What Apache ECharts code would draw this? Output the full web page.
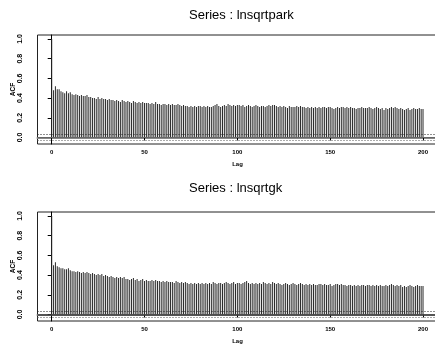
<!DOCTYPE html>
<html>
<head>
<meta charset="utf-8">
<script src="https://cdn.jsdelivr.net/npm/echarts@6/dist/echarts.min.js"></script>
<style>html,body{margin:0;padding:0;background:#fff}#c{width:435px;height:355px}</style>
</head>
<body>
<div id="c"></div>
<script>
const titles = ["Series : lnsqrtpark", "Series : lnsqrtgk"];
const xTicks = [0, 50, 100, 150, 200];
const yTicks = [0, 0.2, 0.4, 0.6, 0.8, 1.0];
const confBand = 0.028;

const acfPark = [1.0,
0.48,0.52,0.49,0.49,0.47,0.46,0.45,0.47,0.45,0.46,
0.44,0.43,0.44,0.43,0.42,0.43,0.42,0.42,0.43,0.41,
0.41,0.40,0.40,0.39,0.41,0.39,0.40,0.39,0.39,0.38,
0.39,0.38,0.38,0.37,0.38,0.37,0.36,0.38,0.37,0.36,
0.37,0.36,0.35,0.37,0.36,0.35,0.36,0.35,0.36,0.35,
0.35,0.35,0.34,0.35,0.34,0.36,0.34,0.34,0.33,0.34,
0.34,0.33,0.34,0.33,0.34,0.33,0.33,0.34,0.33,0.32,
0.33,0.32,0.32,0.31,0.32,0.31,0.32,0.31,0.32,0.32,
0.31,0.32,0.31,0.32,0.31,0.31,0.32,0.33,0.34,0.32,
0.31,0.32,0.33,0.32,0.34,0.33,0.32,0.33,0.32,0.33,
0.33,0.32,0.33,0.31,0.32,0.33,0.32,0.31,0.32,0.33,
0.32,0.31,0.32,0.32,0.31,0.32,0.33,0.32,0.33,0.33,
0.32,0.31,0.32,0.31,0.32,0.31,0.30,0.32,0.31,0.31,
0.31,0.32,0.31,0.32,0.31,0.31,0.30,0.31,0.30,0.31,
0.30,0.31,0.30,0.31,0.30,0.31,0.31,0.30,0.31,0.31,
0.30,0.29,0.30,0.31,0.30,0.31,0.31,0.30,0.31,0.30,
0.31,0.30,0.30,0.29,0.30,0.30,0.31,0.30,0.30,0.30,
0.31,0.30,0.29,0.30,0.31,0.30,0.29,0.30,0.28,0.30,
0.29,0.30,0.31,0.30,0.31,0.30,0.29,0.30,0.29,0.28,
0.29,0.30,0.28,0.29,0.30,0.29,0.29,0.30,0.29,0.29];

const acfGk = [1.0,
0.50,0.53,0.49,0.48,0.47,0.47,0.46,0.46,0.47,0.45,
0.44,0.44,0.43,0.44,0.43,0.42,0.43,0.42,0.43,0.42,
0.41,0.42,0.41,0.40,0.41,0.40,0.41,0.39,0.40,0.39,
0.38,0.39,0.38,0.37,0.38,0.37,0.38,0.37,0.38,0.36,
0.36,0.35,0.36,0.37,0.35,0.36,0.34,0.35,0.36,0.34,
0.35,0.34,0.34,0.35,0.34,0.35,0.34,0.34,0.33,0.34,
0.33,0.34,0.33,0.33,0.33,0.32,0.34,0.33,0.32,0.33,
0.32,0.33,0.32,0.31,0.32,0.31,0.32,0.31,0.32,0.31,
0.32,0.31,0.32,0.31,0.32,0.31,0.33,0.32,0.31,0.32,
0.32,0.31,0.32,0.33,0.32,0.31,0.32,0.33,0.31,0.32,
0.32,0.31,0.32,0.33,0.34,0.32,0.31,0.32,0.31,0.32,
0.31,0.32,0.31,0.33,0.32,0.31,0.32,0.31,0.33,0.32,
0.31,0.32,0.31,0.30,0.31,0.32,0.31,0.30,0.31,0.32,
0.31,0.30,0.31,0.32,0.31,0.30,0.31,0.30,0.31,0.30,
0.31,0.30,0.30,0.31,0.31,0.30,0.31,0.30,0.30,0.31,
0.29,0.30,0.31,0.31,0.30,0.31,0.30,0.30,0.29,0.30,
0.30,0.29,0.30,0.29,0.30,0.29,0.30,0.30,0.29,0.30,
0.30,0.29,0.30,0.29,0.30,0.29,0.30,0.29,0.29,0.30,
0.29,0.30,0.31,0.30,0.29,0.30,0.29,0.30,0.28,0.29,
0.28,0.29,0.30,0.29,0.28,0.29,0.30,0.29,0.29,0.29];

const FONT = 'Liberation Sans';
const chart = echarts.init(document.getElementById('c'), null, {renderer: 'canvas'});

function toPairs(arr) { return arr.map((v, lag) => [lag, v]); }

const gridTops = [35, 212];
const grids = gridTops.map(t => ({
  left: 37.5, top: t, width: 400, height: 109,
  outerBoundsMode: 'none', containLabel: false,
  show: true, borderColor: '#222', borderWidth: 1, backgroundColor: 'transparent'
}));

const xAxes = [0, 1].map(i => ({
  type: 'value', gridIndex: i, min: -7.65, max: 207.8,
  name: 'Lag', nameLocation: 'middle', nameGap: 17, nameMoveOverlap: false,
  nameTextStyle: {fontFamily: FONT, fontSize: 6, fontWeight: 'bold', color: '#000'},
  axisLine: {show: true, lineStyle: {color: '#888', width: 2}},
  axisTick: {show: true, length: 3, customValues: xTicks, lineStyle: {color: '#000'}},
  axisLabel: {customValues: xTicks, margin: 5, fontFamily: FONT, fontSize: 6, fontWeight: 'bold', color: '#000'},
  splitLine: {show: false}
}));

const yAxes = [0, 1].map(i => ({
  type: 'value', gridIndex: i, min: -0.066, max: 1.04,
  name: 'ACF', nameLocation: 'middle', nameGap: 21, nameRotate: 90, nameMoveOverlap: false,
  nameTextStyle: {fontFamily: FONT, fontSize: 6.5, fontWeight: 'bold', color: '#000'},
  axisLine: {show: true, lineStyle: {color: '#000', width: 1}},
  axisTick: {show: true, length: 4, customValues: yTicks, lineStyle: {color: '#000'}},
  axisLabel: {customValues: yTicks, rotate: 90, margin: 14, fontFamily: FONT, fontSize: 7, fontWeight: 'bold', color: '#000',
    formatter: v => v.toFixed(1)},
  splitLine: {show: false}
}));

const seriesData = [acfPark, acfGk];
const series = seriesData.map((arr, i) => ({
  type: 'bar', xAxisIndex: i, yAxisIndex: i,
  data: toPairs(arr), barWidth: 1,
  itemStyle: {color: '#2a2a2a'},
  silent: true, animation: false,
  markLine: {
    silent: true, symbol: 'none', label: {show: false}, animation: false,
    data: [
      {yAxis: 0, lineStyle: {type: 'solid', color: i === 0 ? '#666' : '#444', width: i === 0 ? 1 : 1.5}},
      {yAxis: confBand, lineStyle: {type: [1, 2], color: '#222', width: 1}},
      {yAxis: -confBand, lineStyle: {type: [1, 2], color: '#555', width: 1}}
    ]
  }
}));

chart.setOption({
  animation: false,
  backgroundColor: '#fff',
  title: titles.map((t, i) => ({
    text: t, left: 189, top: i === 0 ? 9 : 182, padding: 0,
    textStyle: {fontFamily: FONT, fontSize: 13, fontWeight: 'normal', color: '#000'}
  })),
  grid: grids,
  xAxis: xAxes,
  yAxis: yAxes,
  series: series
});
</script>
</body>
</html>
